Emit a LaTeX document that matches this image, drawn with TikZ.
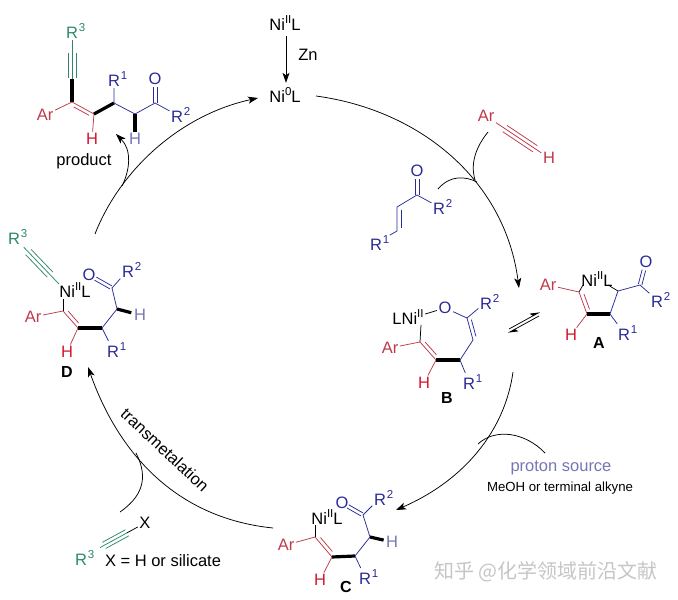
\documentclass[tikz,border=0pt]{standalone}
\usepackage{fontspec}
\setmainfont{Liberation Sans}
\newfontfamily\cjkwm{Noto Sans CJK SC}
\usetikzlibrary{arrows.meta,calc}
\definecolor{cred}{HTML}{BE3A4C}
\definecolor{hred}{HTML}{D2182F}
\definecolor{cblue}{HTML}{2B2B96}
\definecolor{lblue}{HTML}{7777B4}
\definecolor{cgreen}{HTML}{2C8A68}
\definecolor{wmgray}{HTML}{C6C6C6}
\newcommand{\Sup}[1]{\rlap{\kern0.8pt\raisebox{0.42em}{\fontsize{11.5}{12}\selectfont #1}}}
\newcommand{\Sp}[1]{\raisebox{0.42em}{\fontsize{11.5}{12}\selectfont #1}}
\newcommand{\sidebond}[6][]{\draw[#1] ($(#2)!#4!(#3)!#6pt!90:(#3)$) -- ($(#2)!#5!(#3)!#6pt!90:(#3)$);}
\tikzset{
  lbl/.style={inner sep=1.5pt,font=\fontsize{16.5}{18}\selectfont},
  rl/.style={lbl,text=cred},
  hr/.style={lbl,text=hred},
  bl/.style={lbl,text=cblue},
  hb/.style={lbl,text=lblue},
  gr/.style={lbl,text=cgreen},
  tag/.style={inner sep=1pt,font=\fontsize{16}{18}\selectfont\bfseries},
  thin bond/.style={line width=0.75pt},
  redb/.style={thin bond,draw=cred},
  blueb/.style={thin bond,draw=cblue},
  greenb/.style={thin bond,draw=cgreen},
  blackb/.style={thin bond,draw=black},
  boldb/.style={line width=3.2pt,draw=black},
  curve/.style={line width=0.75pt,draw=black},
  arr/.style={curve,-{Stealth[length=10pt,width=7pt,inset=2.5pt]}},
}
\begin{document}
\begin{tikzpicture}[x=1pt,y=-1pt]
\useasboundingbox (0,0) rectangle (678,600);
\fill[white] (0,0) rectangle (678,600);

%% --- Ni precursor
\node[lbl] (niii) at (285,23) {Ni\Sp{II}L};
\node[lbl] (nio) at (285,95) {Ni\Sp{0}L};
\node[lbl] (zn) at (308,55) {Zn};
\draw[arr,shorten <=4pt,shorten >=3pt] (niii.south -| 286,0) -- (nio.north -| 286,0);

%% --- product
\node[gr] (pr3) at (72,31) {R\Sup{3}};
\node[rl] (par) at (45,115) {Ar};
\node[hr] (ph) at (92,139) {H};
\node[bl] (pr1) at (114,79) {R\Sup{1}};
\node[bl] (po) at (155,79) {O};
\node[bl] (pr2) at (177,115) {R\Sup{2}};
\node[hb] (phb) at (135,139) {H};
\node[font=\fontsize{16.5}{18}\selectfont,inner sep=1pt] (prod) at (84,161) {product};
\coordinate (pa) at (72,79);
\coordinate (p1) at (72,102);
\coordinate (p2) at (94,114);
\coordinate (p3) at (114,103);
\coordinate (p4) at (135,114);
\coordinate (p5) at (155,103);
\draw[greenb] (pr3) -- (pa);
\sidebond[greenb]{pr3}{pa}{0.46}{0.98}{4}
\sidebond[greenb]{pr3}{pa}{0.46}{0.98}{-4}
\draw[boldb] (pa) -- (p1);
\draw[redb] (par) -- (p1) -- (p2) -- (ph);
\sidebond[redb]{p1}{p2}{0.15}{0.85}{-3.5}
\draw[boldb] (p2) -- (p3);
\draw[blueb] (pr1) -- (p3) -- (p4) -- (p5) -- (pr2);
\draw[blueb] ($(p5)+(-2,0)$) -- ($(po.south)+(-2,0)$);
\draw[blueb] ($(p5)+(2,0)$) -- ($(po.south)+(2,0)$);
\draw[boldb] (p4) -- ($(p4)!0.7!(phb)$);

%% --- enone
\node[bl] (eo) at (417,171) {O};
\node[bl] (er2) at (439,207) {R\Sup{2}};
\node[bl] (er1) at (376,243) {R\Sup{1}};
\coordinate (e1) at (417,195);
\coordinate (e2) at (397,207);
\coordinate (e3) at (397,231);
\draw[blueb] (er2) -- (e1) -- (e2) -- (e3);
\draw[blueb,shorten >=7pt] (e3) -- (er1);
\draw[blueb] ($(e1)+(-2,0)$) -- ($(eo.south)+(-2,0)$);
\draw[blueb] ($(e1)+(2,0)$) -- ($(eo.south)+(2,0)$);
\sidebond[blueb]{e2}{e3}{0.12}{0.88}{4}

%% --- aryl alkyne
\node[rl] (aar) at (486,116) {Ar};
\node[rl] (ah) at (549,158) {H};
\draw[redb] (aar) -- (ah);
\sidebond[redb]{aar}{ah}{0.3}{0.78}{3.8}
\sidebond[redb]{aar}{ah}{0.3}{0.78}{-3.8}

%% --- A
\node[lbl] (ani) at (597,279) {Ni\Sp{II}L};
\node[rl] (aAr) at (548,285) {Ar};
\node[bl] (aO) at (646,262) {O};
\node[bl] (aR2) at (657,300) {R\Sup{2}};
\node[bl] (aR1) at (624,333) {R\Sup{1}};
\node[hr] (aH) at (571,335) {H};
\node[tag] (tA) at (599,343) {A};
\coordinate (a1) at (579,292);
\coordinate (a2) at (587,314);
\coordinate (a3) at (610,314);
\coordinate (a4) at (618,291);
\coordinate (a5) at (640,285);
\coordinate (an1) at (583,285);
\coordinate (an2) at (608,285);
\draw[blackb] (a1) -- (an1);
\draw[blackb] (a4) -- (an2);
\draw[redb] (aAr) -- (a1) -- (a2) -- (aH);
\sidebond[redb]{a1}{a2}{0.15}{0.85}{4}
\draw[boldb] (a2) -- (a3);
\draw[blueb] (aR1) -- (a3) -- (a4) -- (a5) -- (aR2);
\sidebond[blueb]{a5}{aO}{0.02}{0.65}{1.8}
\sidebond[blueb]{a5}{aO}{0.02}{0.65}{-1.8}

%% --- B
\node[lbl] (bni) at (408,317) {LNi\Sp{II}};
\node[bl] (bO) at (445,308) {O};
\node[bl] (bR2) at (486,302) {R\Sup{2}};
\node[bl] (bR1) at (469,382) {R\Sup{1}};
\node[rl] (bAr) at (390,348) {Ar};
\node[hr] (bH) at (424,383) {H};
\node[tag] (tB) at (447,398) {B};
\coordinate (b1) at (420,342);
\coordinate (b2) at (436,360);
\coordinate (b3) at (460,360);
\coordinate (b4) at (473,340);
\coordinate (b5) at (467,318);
\coordinate (bn) at (421,325);
\draw[blackb] (b1) -- (bn);
\draw[blackb] (bni.east |- 0,314) -- (bO);
\draw[redb] (bAr) -- (b1) -- (b2) -- (bH);
\sidebond[redb]{b1}{b2}{0.15}{0.85}{3.8}
\draw[boldb] (b2) -- (b3);
\draw[blueb] (bR1) -- (b3) -- (b4) -- (b5) -- (bO);
\draw[blueb] (b5) -- (bR2);
\sidebond[blueb]{b4}{b5}{0.12}{0.88}{-3.8}

%% --- C
\node[lbl] (cni) at (327,517) {Ni\Sp{II}L};
\node[rl] (cAr) at (286,545) {Ar};
\node[bl] (cO) at (342,503) {O};
\node[bl] (cR2) at (380,498) {R\Sup{2}};
\node[hb] (cHb) at (392,542) {H};
\node[hr] (cH) at (320,580) {H};
\node[bl] (cR1) at (365,577) {R\Sup{1}};
\node[tag] (tC) at (346,587) {C};
\coordinate (c1) at (315,537);
\coordinate (c2) at (332,557);
\coordinate (c3) at (355,556);
\coordinate (c4) at (370,537);
\coordinate (c5) at (363,515);
\coordinate (cn) at (315,525);
\draw[blackb] (c1) -- (cn);
\draw[redb] (cAr) -- (c1) -- (c2) -- (cH);
\sidebond[redb]{c1}{c2}{0.15}{0.85}{3.8}
\draw[boldb] (c2) -- (c3);
\draw[blueb] (cR1) -- (c3) -- (c4) -- (c5) -- (cR2);
\sidebond[blueb]{c5}{cO}{0.05}{0.72}{1.8}
\sidebond[blueb]{c5}{cO}{0.05}{0.72}{-1.8}
\draw[boldb] (c4) -- ($(c4)!0.62!(cHb)$);

%% --- D
\node[gr] (dR3) at (14,237) {R\Sup{3}};
\node[lbl] (dni) at (75,290) {Ni\Sp{II}L};
\node[bl] (dO) at (89,275) {O};
\node[bl] (dR2) at (128,270) {R\Sup{2}};
\node[rl] (dAr) at (33,317) {Ar};
\node[hr] (dH) at (67,352) {H};
\node[bl] (dR1) at (113,350) {R\Sup{1}};
\node[hb] (dHb) at (140,315) {H};
\node[tag] (tD) at (67,372) {D};
\coordinate (d1) at (63,311);
\coordinate (d2) at (78,328);
\coordinate (d3) at (102,328);
\coordinate (d4) at (117,309);
\coordinate (d5) at (112,288);
\coordinate (dn) at (63,299);
\coordinate (dt) at (59,284);
\draw[greenb,shorten <=3pt] (dR3) -- (dt);
\sidebond[greenb]{dR3}{dt}{0.32}{0.8}{3.8}
\sidebond[greenb]{dR3}{dt}{0.32}{0.8}{-3.8}
\draw[blackb] (d1) -- (dn);
\draw[redb] (dAr) -- (d1) -- (d2) -- (dH);
\sidebond[redb]{d1}{d2}{0.15}{0.85}{3.8}
\draw[boldb] (d2) -- (d3);
\draw[blueb] (dR1) -- (d3) -- (d4) -- (d5) -- (dR2);
\sidebond[blueb]{d5}{dO}{0.05}{0.72}{1.8}
\sidebond[blueb]{d5}{dO}{0.05}{0.72}{-1.8}
\draw[boldb] (d4) -- ($(d4)!0.62!(dHb)$);

%% --- silyl alkyne
\node[gr] (sR3) at (81,558) {R\Sup{3}};
\node[lbl] (sX) at (145,523) {X};
\node[lbl] (sL) at (163,561) {X = H or silicate};
\draw[greenb,shorten <=13pt] (sR3) -- ($(sR3)!0.72!(sX)$);
\draw[blackb] ($(sR3)!0.72!(sX)$) -- (sX);
\sidebond[greenb]{sR3}{sX}{0.36}{0.72}{3.5}
\sidebond[greenb]{sR3}{sX}{0.36}{0.72}{-3.5}

%% --- texts
\node[rotate=-43,font=\fontsize{16.5}{18}\selectfont,inner sep=1pt] (trans) at (165,450) {transmetalation};
\node[font=\fontsize{16.5}{18}\selectfont,text=lblue,inner sep=1pt] (ps) at (561,468) {proton source};
\node[font=\fontsize{13.2}{15}\selectfont,inner sep=1pt] (ms) at (560,488) {MeOH or terminal alkyne};
\node[font=\fontsize{20}{22}\selectfont\cjkwm,text=wmgray,inner sep=0pt] (wm) at (546,572) {知乎 @化学领域前沿文献};

%% --- cycle arrows
\coordinate (s1) at (316,96);
\coordinate (t1) at (519,288);
\coordinate (s2) at (513,372);
\coordinate (t2) at (396,510);
\coordinate (s3) at (273,528);
\coordinate (t3) at (88,367);
\coordinate (s4) at (95,234);
\coordinate (t4) at (258,98);
\coordinate (s5) at (122,186);
\coordinate (t5) at (116,134);
\draw[arr] (s1) .. controls (420,110) and (505,180) .. (t1);
\draw[arr] (s2) .. controls (505,430) and (465,480) .. (t2);
\draw[arr] (s3) .. controls (175,518) and (118,452) .. (t3);
\draw[arr] (s4) .. controls (120,170) and (180,115) .. (t4);
\draw[arr] (s5) .. controls (130,170) and (132,150) .. (t5);

%% --- reagent entry curves
\coordinate (m1a) at (488,132);
\coordinate (m1b) at (475,180);
\coordinate (m2a) at (438,189);
\coordinate (m2b) at (477,182);
\coordinate (m3a) at (545,453);
\coordinate (m3b) at (478,444);
\coordinate (m4a) at (120,512);
\coordinate (m4b) at (136,453);
\draw[curve] (m1a) .. controls (471,153) and (472,170) .. (m1b);
\draw[curve] (m2a) .. controls (450,175) and (465,176) .. (m2b);
\draw[curve] (m3a) .. controls (525,432) and (495,428) .. (m3b);
\draw[curve] (m4a) .. controls (140,498) and (150,480) .. (m4b);

%% --- equilibrium
\coordinate (q1) at (509,329);
\coordinate (q2) at (540,312);
\coordinate (q3) at (539,316);
\coordinate (q4) at (508,333);
\draw[curve,-{Stealth[harpoon,length=9pt,width=7pt,inset=2pt]}] (q1) -- (q2);
\draw[curve,-{Stealth[harpoon,length=9pt,width=7pt,inset=2pt]}] (q3) -- (q4);
\end{tikzpicture}
\end{document}
